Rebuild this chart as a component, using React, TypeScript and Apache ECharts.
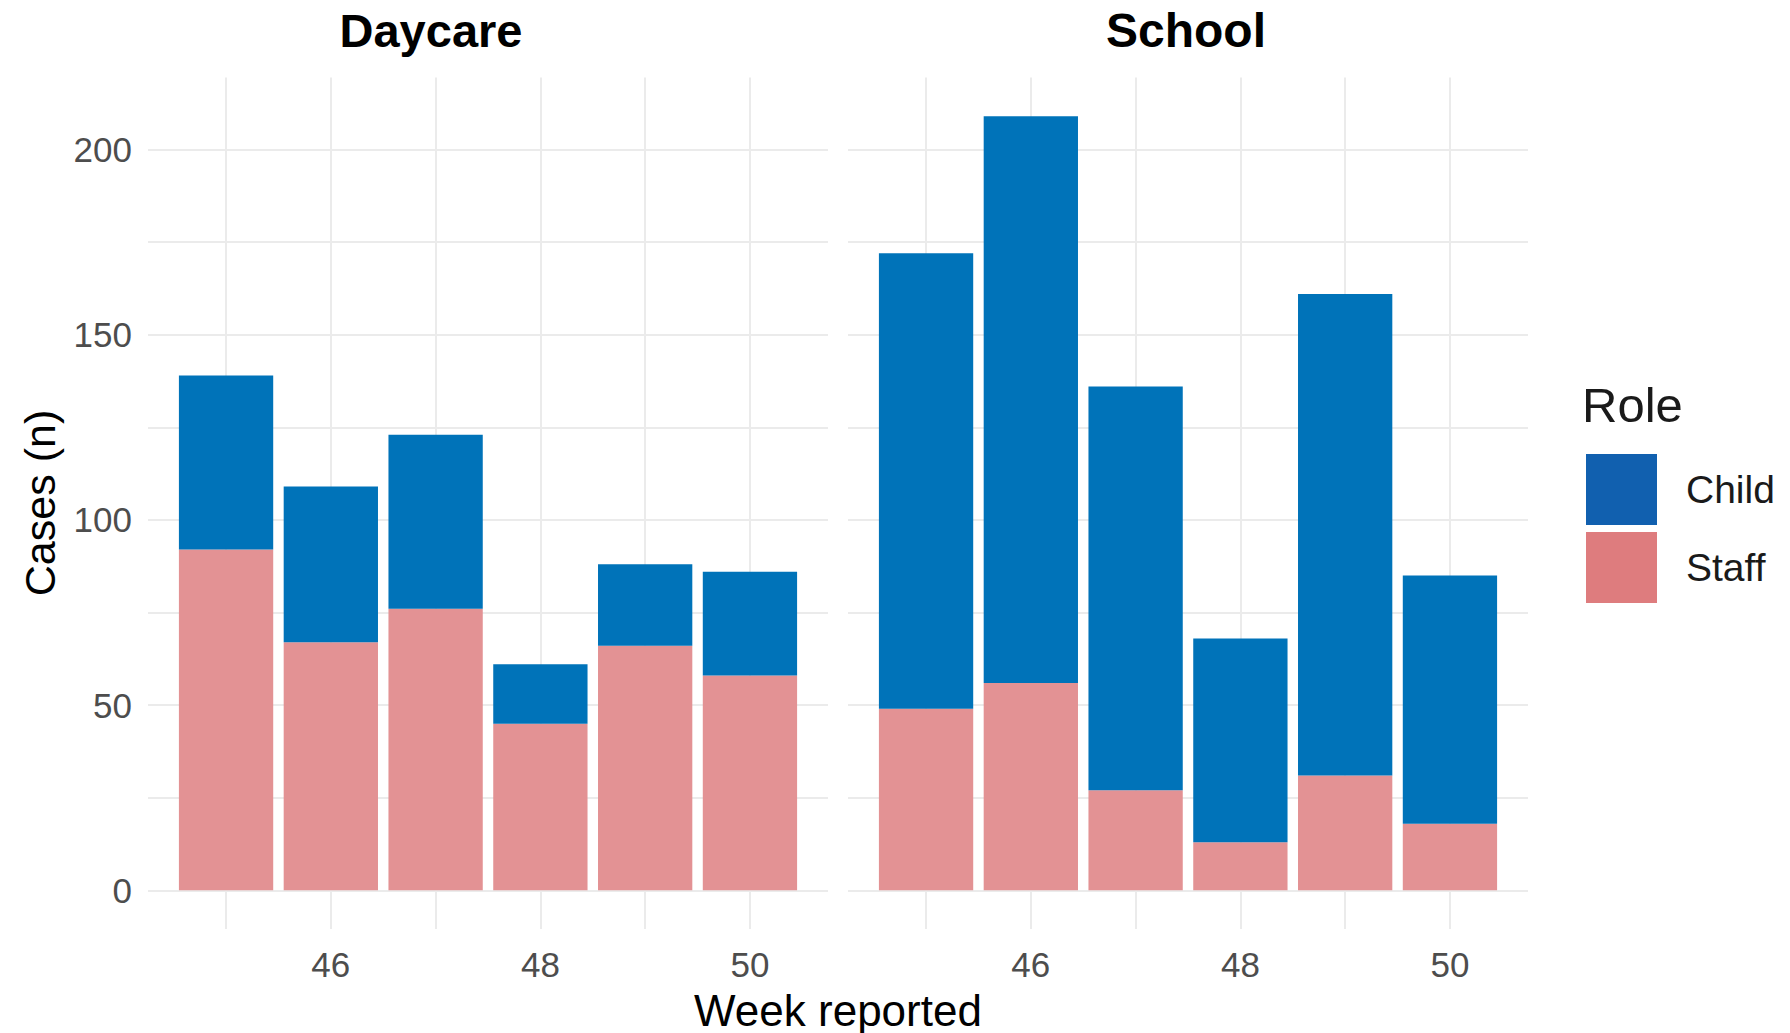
import React, { useEffect, useRef } from "react";
import * as echarts from "echarts";

const weeks = [45, 46, 47, 48, 49, 50];
const daycareStaff = [92, 67, 76, 45, 66, 58];
const daycareChild = [47, 42, 47, 16, 22, 28];
const schoolStaff = [49, 56, 27, 13, 31, 18];
const schoolChild = [123, 153, 109, 55, 130, 67];
const panelTitles = ["Daycare", "School"];
const yTickLabels = [0, 50, 100, 150, 200];
const yGridValues = [0, 25, 50, 75, 100, 125, 150, 175, 200];
const xTickLabels = [46, 48, 50];
const xGridValues = [45, 46, 47, 48, 49, 50];
const roles = ["Child", "Staff"];

const FONT = "'Liberation Sans', Arial, Helvetica, sans-serif";
const CHILD = "#0073B9";
const STAFF = "#E39294";
const CHILD_KEY = "#1160AF";
const STAFF_KEY = "#DE7C7E";
const GRID_COLOR = "#EBEBEB";

const BAR_W = 0.9;
const xLo = Math.min(...weeks) - BAR_W / 2;
const xHi = Math.max(...weeks) + BAR_W / 2;
const xPad = 0.05 * (xHi - xLo);
const X_MIN = xLo - xPad;
const X_MAX = xHi + xPad;
const totals = [
  ...daycareStaff.map((v, i) => v + daycareChild[i]),
  ...schoolStaff.map((v, i) => v + schoolChild[i]),
];
const yTop = Math.max(...totals);
const Y_MIN = -0.05 * yTop;
const Y_MAX = yTop * 1.05;

const GRID_TOP = 77.5;
const GRID_H = 851.5;
const GRID_W = 680;
const GRID_LEFTS = [148, 848];
const barPx = (BAR_W * GRID_W) / (X_MAX - X_MIN);

function makeOption() {
  const grids = GRID_LEFTS.map((l) => ({
    left: l,
    top: GRID_TOP,
    width: GRID_W,
    height: GRID_H,
    containLabel: false,
  }));
  const xAxes = GRID_LEFTS.map((_, i) => ({
    type: "value",
    gridIndex: i,
    min: X_MIN,
    max: X_MAX,
    axisLine: { show: false },
    axisTick: { show: false, customValues: xGridValues },
    axisLabel: {
      customValues: xTickLabels,
      color: "#4D4D4D",
      fontSize: 35,
      fontFamily: FONT,
      margin: 18,
    },
    splitLine: { show: true, lineStyle: { color: GRID_COLOR, width: 2 } },
  }));
  const yAxes = GRID_LEFTS.map((_, i) => ({
    type: "value",
    gridIndex: i,
    min: Y_MIN,
    max: Y_MAX,
    axisLine: { show: false },
    axisTick: { show: false, customValues: yGridValues },
    axisLabel: {
      show: i === 0,
      customValues: yTickLabels,
      color: "#4D4D4D",
      fontSize: 35,
      fontFamily: FONT,
      margin: 16,
    },
    splitLine: { show: true, lineStyle: { color: GRID_COLOR, width: 2 } },
  }));
  // value first, week second, so the stack is taken on the value dimension
  const mk = (name: string, vals: number[], idx: number, color: string) => ({
    type: "bar",
    name,
    xAxisIndex: idx,
    yAxisIndex: idx,
    stack: "s" + idx,
    barWidth: barPx,
    itemStyle: { color },
    encode: { x: 1, y: 0 },
    data: weeks.map((w, i) => [vals[i], w]),
  });
  return {
    animation: false,
    backgroundColor: "#ffffff",
    grid: grids,
    xAxis: xAxes,
    yAxis: yAxes,
    legend: {
      orient: "vertical",
      left: 1581,
      top: 449,
      itemWidth: 71,
      itemHeight: 71,
      itemGap: 7,
      selectedMode: false,
      icon: "rect",
      textStyle: {
        fontSize: 39,
        color: "#1A1A1A",
        fontFamily: FONT,
        padding: [4, 0, 0, 24],
      },
      data: [
        { name: roles[0], itemStyle: { color: CHILD_KEY } },
        { name: roles[1], itemStyle: { color: STAFF_KEY } },
      ],
    },
    series: [
      mk(roles[1], daycareStaff, 0, STAFF),
      mk(roles[0], daycareChild, 0, CHILD),
      mk(roles[1], schoolStaff, 1, STAFF),
      mk(roles[0], schoolChild, 1, CHILD),
    ],
    graphic: [
      {
        type: "text",
        x: 431,
        y: 30,
        style: {
          text: panelTitles[0],
          fontSize: 47,
          fontWeight: "bold",
          fontFamily: FONT,
          fill: "#000",
          align: "center",
          verticalAlign: "middle",
        },
      },
      {
        type: "text",
        x: 1186,
        y: 30,
        style: {
          text: panelTitles[1],
          fontSize: 48,
          fontWeight: "bold",
          fontFamily: FONT,
          fill: "#000",
          align: "center",
          verticalAlign: "middle",
        },
      },
      {
        type: "text",
        x: 838,
        y: 1010,
        style: {
          text: "Week reported",
          fontSize: 44,
          fontFamily: FONT,
          fill: "#000",
          align: "center",
          verticalAlign: "middle",
        },
      },
      {
        type: "text",
        x: 40,
        y: 503,
        rotation: Math.PI / 2,
        style: {
          text: "Cases (n)",
          fontSize: 43,
          fontFamily: FONT,
          fill: "#000",
          align: "center",
          verticalAlign: "middle",
        },
      },
      {
        type: "text",
        x: 1582,
        y: 405,
        style: {
          text: "Role",
          fontSize: 49,
          fontFamily: FONT,
          fill: "#1A1A1A",
          align: "left",
          verticalAlign: "middle",
        },
      },
    ],
  };
}

export default function App() {
  const ref = useRef<HTMLDivElement>(null);
  useEffect(() => {
    const chart = echarts.init(ref.current!, null, { renderer: "svg" });
    chart.setOption(makeOption() as any);
    return () => chart.dispose();
  }, []);
  return (
    <div
      ref={ref}
      style={{
        position: "absolute",
        left: 0,
        top: 0,
        width: 1790,
        height: 1033,
        background: "#fff",
      }}
    />
  );
}
